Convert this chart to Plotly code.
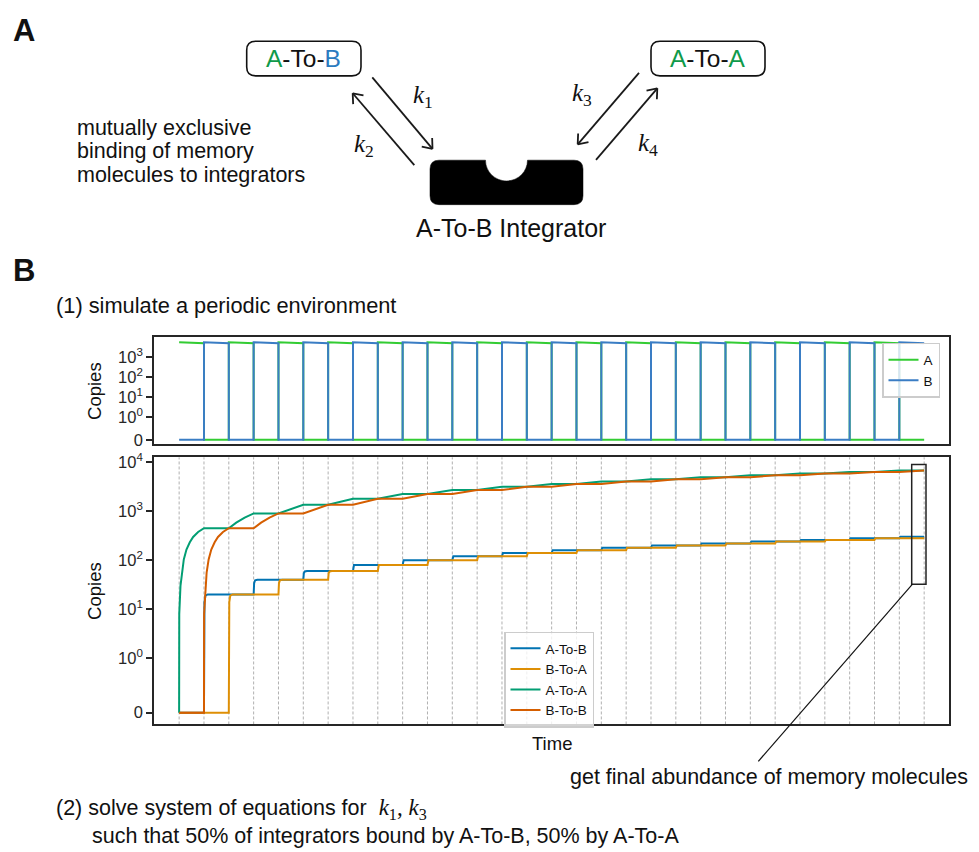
import math
import plotly.graph_objects as go

FIG_W, FIG_H = 979, 852

# ---------------- data ----------------
# (1) periodic environment: input present in each period and its copy number
env_period = [0, 1, 2, 3, 4, 5, 6, 7, 8, 9, 10, 11, 12, 13, 14,
              15, 16, 17, 18, 19, 20, 21, 22, 23, 24, 25, 26, 27, 28, 29]
env_signal = ["A", "B", "A", "B", "A", "B", "A", "B", "A", "B",
              "A", "B", "A", "B", "A", "B", "A", "B", "A", "B",
              "A", "B", "A", "B", "A", "B", "A", "B", "A", "B"]
env_copies_start = 5200   # copies at the start of a period
env_copies_end = 4700     # copies at the end of a period

# period boundaries (dashed guides in the lower panel)
period_edges = [0, 1, 2, 3, 4, 5, 6, 7, 8, 9, 10, 11, 12, 13, 14, 15,
                16, 17, 18, 19, 20, 21, 22, 23, 24, 25, 26, 27, 28, 29, 30]

# memory molecules (time, copies)
atob_time = [0, 1, 1.02, 1.06, 1.15, 3, 3.02, 3.06, 3.15, 5, 5.02, 5.06, 5.15,
             7, 7.04, 9, 9.04, 11, 11.04, 13, 13.04, 15, 15.04, 17, 17.04, 19, 19.04,
             21, 21.04, 23, 23.04, 25, 25.04, 27, 27.04, 29, 29.04, 30]
atob_copies = [0, 0, 14, 19, 20, 20, 34, 39, 40, 40, 54, 59, 60,
               60, 80, 80, 100, 100, 120, 120, 140, 140, 160, 160, 180, 180, 200,
               200, 220, 220, 240, 240, 260, 260, 280, 280, 300, 300]

btoa_time = [0, 2, 2.02, 2.06, 2.15, 4, 4.02, 4.06, 4.15, 6, 6.02, 6.06, 6.15,
             8, 8.04, 10, 10.04, 12, 12.04, 14, 14.04, 16, 16.04, 18, 18.04,
             20, 20.04, 22, 22.04, 24, 24.04, 26, 26.04, 28, 28.04, 30]
btoa_copies = [0, 0, 14, 19, 20, 20, 34, 39, 40, 40, 54, 59, 60,
               60, 80, 80, 100, 100, 120, 120, 140, 140, 160, 160, 180,
               180, 200, 200, 220, 220, 240, 240, 260, 260, 280, 280]

atoa_time = [0, 0.005, 0.054, 0.107, 0.188, 0.295, 0.43, 0.564, 0.765, 1,
             2, 2.3, 2.64, 3,
             4, 5, 6, 7, 8, 9, 10, 11, 12, 13, 14, 15, 16, 17, 18, 19, 20,
             21, 22, 23, 24, 25, 26, 27, 28, 29, 30]
atoa_copies = [0, 8, 30, 56, 104, 165, 232, 298, 376, 450,
               450, 585, 740, 900,
               900, 1350, 1350, 1800, 1800, 2250, 2250, 2700, 2700, 3150, 3150,
               3600, 3600, 4050, 4050, 4500, 4500,
               4950, 4950, 5400, 5400, 5850, 5850, 6300, 6300, 6750, 6750]

btob_time = [0, 1, 1.005, 1.054, 1.107, 1.188, 1.295, 1.43, 1.564, 1.765, 2,
             3, 3.3, 3.64, 4,
             5, 6, 7, 8, 9, 10, 11, 12, 13, 14, 15, 16, 17, 18, 19, 20,
             21, 22, 23, 24, 25, 26, 27, 28, 29, 30]
btob_copies = [0, 0, 8, 30, 56, 104, 165, 232, 298, 376, 450,
               450, 585, 740, 900,
               900, 1350, 1350, 1800, 1800, 2250, 2250, 2700, 2700, 3150, 3150,
               3600, 3600, 4050, 4050, 4500, 4500,
               4950, 4950, 5400, 5400, 5850, 5850, 6300, 6300, 6750]

symlog_ticks = [0, 1, 10, 100, 1000, 10000]
symlog_ticktext = ["0", "10<sup>0</sup>", "10<sup>1</sup>", "10<sup>2</sup>",
                   "10<sup>3</sup>", "10<sup>4</sup>"]

# ---------------- helpers ----------------
LIN_SCALE = 1.0 / (1.0 - 1.0 / 10.0)  # symlog, base 10, linthresh 1, linscale 1


def symlog(v):
    if abs(v) <= 1:
        return v * LIN_SCALE
    return math.copysign(LIN_SCALE + math.log10(abs(v)), v)


def px(x):
    return x / FIG_W


def py(y):
    return 1 - y / FIG_H


def env_series(sym):
    xs, ys = [], []
    for p, s in zip(env_period, env_signal):
        xs += [p, p + 1]
        ys += [env_copies_start, env_copies_end] if s == sym else [0, 0]
    return xs, ys


# plot areas (pixels)
PLOT_L, PLOT_R = 154.3, 949.0
TOP_T, TOP_B = 335.3, 443.7
BOT_T, BOT_B = 456.7, 727.0

SANS = "Liberation Sans, Arial, Helvetica, sans-serif"
SERIF = "Liberation Serif, DejaVu Serif, serif"
FRAME = "#262626"

fig = go.Figure()

# ---- top panel: environment ----
for sym, color in (("A", "#33cc33"), ("B", "#3a7dc4")):
    xs, ys = env_series(sym)
    fig.add_trace(go.Scatter(
        x=xs, y=[symlog(v) for v in ys], mode="lines", name=sym,
        line=dict(color=color, width=2), xaxis="x", yaxis="y",
        legend="legend", hoverinfo="skip"))

# ---- bottom panel: memory molecules ----
memory = [
    ("A-To-B", atob_time, atob_copies, "#0173b2"),
    ("B-To-A", btoa_time, btoa_copies, "#de8f05"),
    ("A-To-A", atoa_time, atoa_copies, "#029e73"),
    ("B-To-B", btob_time, btob_copies, "#d55e00"),
]
for name, t, c, color in memory:
    fig.add_trace(go.Scatter(
        x=t, y=[symlog(v) for v in c], mode="lines", name=name,
        line=dict(color=color, width=2), xaxis="x2", yaxis="y2",
        legend="legend2", hoverinfo="skip"))

axis_common = dict(showline=True, mirror=True, linecolor=FRAME, linewidth=2.2,
                   zeroline=False)
y_common = dict(axis_common, tickvals=[symlog(v) for v in symlog_ticks],
                ticktext=symlog_ticktext, ticks="outside", ticklen=6,
                tickwidth=1.5, tickcolor=FRAME, showgrid=False,
                tickfont=dict(family=SANS, size=16.5, color=FRAME))
x_common = dict(axis_common, domain=[px(PLOT_L), px(PLOT_R)], range=[-1, 31],
                showticklabels=False, ticks="", showgrid=False)

fig.update_layout(
    width=FIG_W, height=FIG_H, autosize=False,
    margin=dict(l=0, r=0, t=0, b=0),
    paper_bgcolor="white", plot_bgcolor="rgba(0,0,0,0)",
    font=dict(family=SANS, color="#111111"),
    xaxis=dict(x_common, anchor="y"),
    yaxis=dict(y_common, domain=[py(TOP_B), py(TOP_T)], range=[-0.23, 5.07],
               anchor="x"),
    xaxis2=dict(x_common, anchor="y2"),
    yaxis2=dict(y_common, domain=[py(BOT_B), py(BOT_T)], range=[-0.24, 5.21],
                anchor="x2"),
    legend=dict(x=px(882), y=py(341), xanchor="left", yanchor="top",
                bgcolor="rgba(255,255,255,0.8)", bordercolor="#cccccc",
                borderwidth=1.5, font=dict(family=SANS, size=13.5, color="#111"),
                tracegroupgap=0),
    legend2=dict(x=px(504), y=py(633), xanchor="left", yanchor="top",
                 bgcolor="rgba(255,255,255,0.8)", bordercolor="#cccccc",
                 borderwidth=1.5, font=dict(family=SANS, size=13.5, color="#111"),
                 tracegroupgap=0),
)

shapes = []
annotations = []

# dashed period boundaries in the lower panel
for t in period_edges:
    shapes.append(dict(type="line", xref="x2", yref="y2 domain", x0=t, x1=t,
                       y0=0, y1=1, layer="below",
                       line=dict(color="#b0b0b0", width=1, dash="3px,2px")))


def path_str(cmds):
    out = []
    for c in cmds:
        if isinstance(c, str):
            out.append(c)
        else:
            out.append(f"{px(c[0]):.5f},{py(c[1]):.5f}")
    return " ".join(out)


def rounded_rect(x0, y0, x1, y1, r):
    cmds = ["M", (x0 + r, y0), "L", (x1 - r, y0), "Q", (x1, y0), (x1, y0 + r),
            "L", (x1, y1 - r), "Q", (x1, y1), (x1 - r, y1),
            "L", (x0 + r, y1), "Q", (x0, y1), (x0, y1 - r),
            "L", (x0, y0 + r), "Q", (x0, y0), (x0 + r, y0), "Z"]
    return path_str(cmds)


def line(x0, y0, x1, y1, width=1.8, color="#1a1a1a"):
    shapes.append(dict(type="line", xref="paper", yref="paper",
                       x0=px(x0), y0=py(y0), x1=px(x1), y1=py(y1),
                       line=dict(color=color, width=width)))


def arrow(x0, y0, x1, y1, head=11, ang=38):
    line(x0, y0, x1, y1)
    dx, dy = x0 - x1, y0 - y1
    n = math.hypot(dx, dy)
    dx, dy = dx / n, dy / n
    for s in (1, -1):
        a = math.radians(ang * s)
        wx = dx * math.cos(a) - dy * math.sin(a)
        wy = dx * math.sin(a) + dy * math.cos(a)
        line(x1, y1, x1 + head * wx, y1 + head * wy)


def text(x, y, s, size=21.5, xanchor="left", family=SANS, **kw):
    annotations.append(dict(x=px(x), y=py(y), xref="paper", yref="paper",
                            text=s, showarrow=False, xanchor=xanchor,
                            yanchor="middle",
                            font=dict(family=family, size=size, color="#111111"),
                            **kw))


def kvar(i):
    return f"<i>k</i><sub>{i}</sub>"


# ---- panel A diagram ----
GREEN, BLUE = "#0f9a4a", "#2b7bbf"
shapes.append(dict(type="path", xref="paper", yref="paper",
                   path=rounded_rect(246.7, 35.7, 361, 70.7, 9),
                   line=dict(color="#111", width=1.6)))
shapes.append(dict(type="path", xref="paper", yref="paper",
                   path=rounded_rect(651, 35.7, 765, 70.7, 9),
                   line=dict(color="#111", width=1.6)))
text(303.5, 53.5, f"<span style='color:{GREEN}'>A</span>-To-<span style='color:{BLUE}'>B</span>",
     size=24.5, xanchor="center")
text(708, 53.5, f"<span style='color:{GREEN}'>A</span>-To-<span style='color:{GREEN}'>A</span>",
     size=24.5, xanchor="center")

# integrator body with binding notch
ix0, iy0, ix1, iy1, ir = 430, 156, 583, 201, 9
ncx, nr, k = 506.5, 21, 0.5523
integ = ["M", (ix0 + ir, iy0), "L", (ncx - nr, iy0),
         "C", (ncx - nr, iy0 + k * nr), (ncx - k * nr, iy0 + nr), (ncx, iy0 + nr),
         "C", (ncx + k * nr, iy0 + nr), (ncx + nr, iy0 + k * nr), (ncx + nr, iy0),
         "L", (ix1 - ir, iy0), "Q", (ix1, iy0), (ix1, iy0 + ir),
         "L", (ix1, iy1 - ir), "Q", (ix1, iy1), (ix1 - ir, iy1),
         "L", (ix0 + ir, iy1), "Q", (ix0, iy1), (ix0, iy1 - ir),
         "L", (ix0, iy0 + ir), "Q", (ix0, iy0), (ix0 + ir, iy0), "Z"]
shapes.append(dict(type="path", xref="paper", yref="paper", path=path_str(integ),
                   fillcolor="black", line=dict(color="black", width=0.5)))
text(511, 225, "A-To-B Integrator", size=25, xanchor="center")

arrow(372.3, 72.3, 432.5, 144.5)
arrow(414.3, 161, 352.7, 88.3)
arrow(639, 67.7, 577.7, 140)
arrow(596, 155.7, 657.3, 83.3)
for lx, ly, lab in ((422.5, 92, 1), (364, 141, 2), (582, 90, 3), (648, 140, 4)):
    text(lx, ly, kvar(lab), size=25, xanchor="center", family=SERIF)

text(75, 123, "mutually exclusive")
text(75, 147, "binding of memory")
text(75, 171, "molecules to integrators")

# ---- panel labels and captions ----
text(11, 25, "<b>A</b>", size=31)
text(11, 268, "<b>B</b>", size=31)
text(54, 303, "(1) simulate a periodic environment", size=21.8)
text(54, 813, "(2) solve system of equations for  "
     f"<span style='font-family:Liberation Serif, DejaVu Serif, serif;font-size:23px'>"
     f"{kvar(1)}, {kvar(3)}</span>")
text(90, 840, "such that 50% of integrators bound by A-To-B, 50% by A-To-A")

# axis titles
text(95, (TOP_T + TOP_B) / 2, "Copies", size=18.5, xanchor="center", textangle=-90)
text(95, (BOT_T + BOT_B) / 2, "Copies", size=18.5, xanchor="center", textangle=-90)
text((PLOT_L + PLOT_R) / 2, 746, "Time", size=18.5, xanchor="center")

# final abundance callout
shapes.append(dict(type="rect", xref="paper", yref="paper",
                   x0=px(911.7), x1=px(926), y0=py(585), y1=py(464),
                   line=dict(color="#222", width=1.5)))
line(912.5, 585, 758.3, 764.3, width=1.2, color="#111")
text(568, 780, "get final abundance of memory molecules")

fig.update_layout(shapes=shapes, annotations=annotations)
fig.write_html("out.html")
